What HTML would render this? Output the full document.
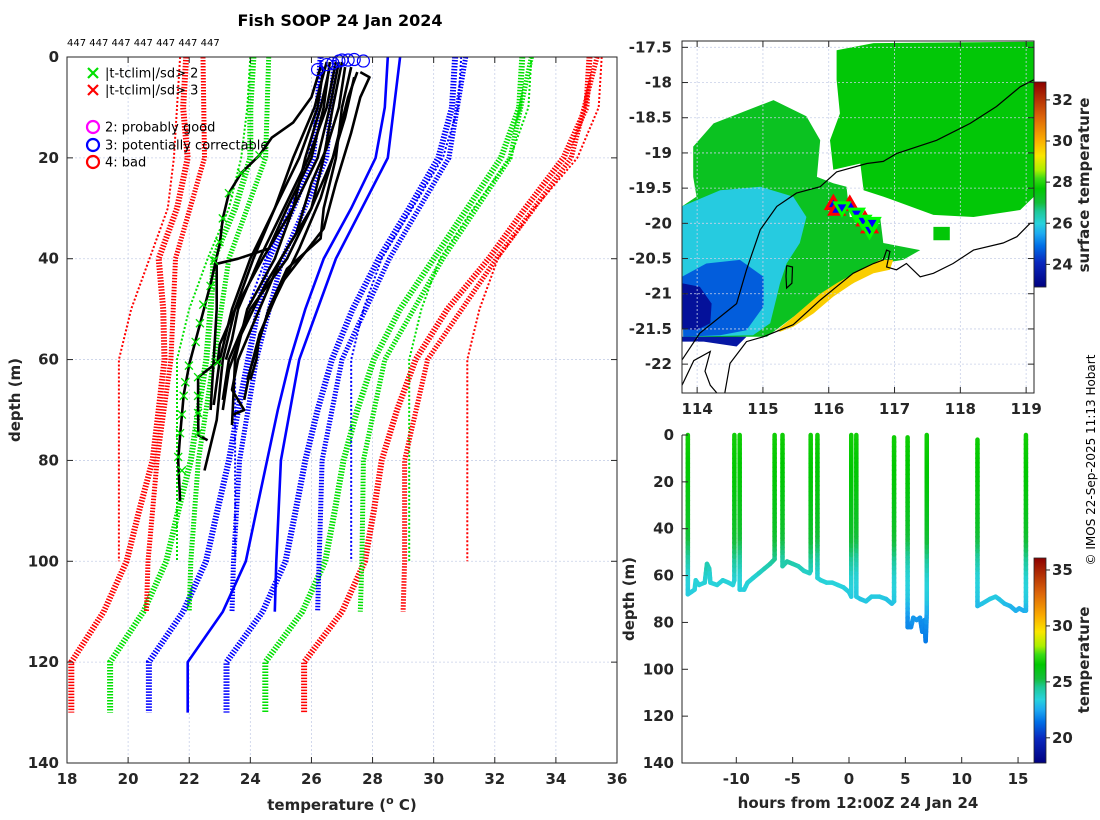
<!DOCTYPE html>
<html><head><meta charset="utf-8"><style>
html,body{margin:0;padding:0;background:#fff;}
svg{display:block;font-family:"DejaVu Sans","Liberation Sans",sans-serif;}
.tk{font-size:15px;font-weight:bold;fill:#262626;}
.lg{font-size:13px;fill:#000;}
</style></head><body>
<svg id="fig" width="1100" height="820" viewBox="0 0 1100 820" xmlns="http://www.w3.org/2000/svg">
<text x="340" y="26" text-anchor="middle" font-size="16" font-weight="bold" fill="#000">Fish SOOP 24 Jan 2024</text>
<text x="67" y="46" font-size="10" fill="#000">447 447 447 447 447 447 447</text>
<g id="left"></g>
<g id="map"></g>
<g id="sect"></g>
<text x="20" y="400" transform="rotate(-90 20 400)" text-anchor="middle" class="tk" font-size="16">depth (m)</text>
<text x="342" y="810" text-anchor="middle" class="tk" font-size="16">temperature (<tspan font-size="11" dy="-6">o</tspan><tspan dy="6"> C)</tspan></text>
<text x="634" y="599" transform="rotate(-90 634 599)" text-anchor="middle" class="tk" font-size="16">depth (m)</text>
<text x="858" y="808" text-anchor="middle" class="tk" font-size="16">hours from 12:00Z 24 Jan 24</text>
<text x="1089" y="185" transform="rotate(-90 1089 185)" text-anchor="middle" class="tk" font-size="14">surface temperature</text>
<text x="1089" y="660" transform="rotate(-90 1089 660)" text-anchor="middle" class="tk" font-size="14">temperature</text>
<text x="1095" y="460" transform="rotate(-90 1095 460)" text-anchor="middle" font-size="12" fill="#000">© IMOS 22-Sep-2025 11:13 Hobart</text>
</svg>
<script>
// ---------- left panel data ----------
const clim1Depth=[0,10,20,30,40,50,60,70,80,90,100,110,120,130];
const clim1Mean=[28.5,28.4,28.1,27.3,26.4,25.8,25.3,24.9,24.55,24.2,23.85,23.1,21.95,21.95];
const clim1Sd=[2.2,2.2,2.05,1.9,1.8,1.55,1.37,1.3,1.25,1.28,1.3,1.3,1.27,1.27];
const clim3Depth=[0,20,40,60,80,100,110];
const clim3Mean=[28.9,28.5,26.8,25.6,25.0,24.85,24.8];
const clim3Sd=[2.15,2.0,1.75,1.4,1.35,1.4,1.4];
const clim2Depth=[0,10,20,30,40,50,60,100];
const clim2Mean=[28.6,28.5,28.1,27.3,26.4,25.8,25.4,25.4];
const clim2Sd=[2.3,2.3,2.2,2.0,1.9,1.9,1.9,1.9];
const profiles=[
 [[2,26.3],[8,26.0],[13,25.4],[16,24.7],[19.5,24.3],[23,23.7],[27,23.3],[32,23.1],[37,23.0],[45,22.7],[53,22.35],[61,22.0],[67,21.82],[75,21.7],[80,21.64],[88,21.7]],
 [[1,26.5],[10,26.1],[20,25.4],[30,24.8],[40,24.1],[50,23.5],[57,23.0],[60.5,22.93],[63.5,22.29],[70,22.29],[75,22.3],[76,22.6]],
 [[1,27.0],[10,26.7],[20,26.4],[30,26.0],[40,25.0],[50,24.3],[60,23.6],[66,23.4],[70,23.8],[71,23.4]],
 [[2,27.3],[10,27.0],[20,26.8],[30,26.4],[36,26.3],[42,25.2],[50,24.6],[58,24.2],[64,23.9]],
 [[3,27.5],[8,27.2],[20,26.7],[30,26.0],[40,25.2],[50,24.0],[60,23.3],[68,23.1]],
 [[1,26.6],[10,26.4],[20,26.0],[30,25.2],[38,24.6],[40,23.6],[41,22.9],[50,22.9],[60,22.8],[70,22.7]],
 [[2,27.1],[10,26.9],[18,26.5],[25,26.0],[35,25.5],[45,24.5],[55,23.7],[62,23.3],[70,23.1]],
 [[1,26.8],[10,26.5],[20,25.9],[30,25.1],[40,24.3],[50,23.6],[56,23.4],[60,23.2]],
 [[3,27.6],[4,27.9],[8,27.6],[15,27.3],[25,26.8],[34,26.4],[45,25.0],[55,24.3],[62,24.0],[68,23.8]],
 [[1,26.9],[10,26.6],[20,26.2],[30,25.4],[40,24.4],[50,23.5],[60,23.1],[72,22.9],[82,22.5]],
 [[4,27.4],[12,27.1],[20,26.7],[28,26.3],[38,25.6],[48,24.8],[55,24.3],[60,24.2],[64,24.0]],
 [[2,26.4],[10,26.2],[20,25.6],[30,24.8],[40,24.0],[50,23.4],[60,23.0],[69,22.8]],
 [[2,26.6],[10,26.3],[20,25.8],[30,25.4],[40,24.8],[50,23.9],[60,23.5],[73,23.4]]
];
const flagT=[24.3,23.7,23.3,23.1,22.99,22.81,22.70,22.46,22.35,22.21,21.99,21.87,21.82,21.76,21.70,21.64,21.76,22.29,22.29,22.29,22.29,22.93];
const flagD=[19.5,23,27,32,36.7,40.4,45.4,49.1,52.8,56.5,61.2,64.5,67.2,70.9,74.6,79.3,82.0,63.5,67.2,70.6,74.6,60.5];
const qcT=[26.2,26.5,26.7,26.9,27.0,27.2,27.4,27.7];
const qcD=[2.5,1.5,1.2,0.8,0.6,0.6,0.5,0.8];
const tTicks=[18,20,22,24,26,28,30,32,34,36];
const dTicks=[0,20,40,60,80,100,120,140];

// ---------- map data ----------
const mapLonTicks=[114,115,116,117,118,119];
const mapLatTicks=[-17.5,-18,-18.5,-19,-19.5,-20,-20.5,-21,-21.5,-22];
const regionValues=[27.6,27.6,27.3,25.9,24.7,23.4,23.6,29.6];
const regionShapes=[
 [[116.12,-17.54],[116.68,-17.44],[119.12,-17.42],[119.12,-19.62],[118.91,-19.81],[118.2,-19.91],[117.59,-19.88],[116.83,-19.62],[116.53,-19.53],[116.48,-19.15],[116.07,-19.24],[116.02,-18.82],[116.17,-18.44],[116.12,-17.96]],
 [[117.59,-20.05],[117.84,-20.05],[117.84,-20.24],[117.59,-20.24]],
 [[113.94,-18.91],[114.25,-18.58],[115.16,-18.25],[115.66,-18.48],[115.87,-18.82],[115.82,-19.34],[116.07,-19.43],[116.27,-19.48],[116.32,-19.91],[116.78,-19.91],[116.83,-20.28],[117.39,-20.38],[117.13,-20.52],[116.78,-20.57],[116.37,-20.85],[115.66,-21.23],[115.46,-21.33],[115.06,-21.61],[114.75,-21.61],[113.79,-21.63],[113.77,-19.76],[113.99,-19.62],[113.94,-19.34]],
 [[113.77,-19.76],[114.35,-19.53],[114.96,-19.48],[115.46,-19.62],[115.66,-19.91],[115.56,-20.28],[115.36,-20.57],[115.26,-20.85],[115.21,-21.04],[115.11,-21.42],[114.85,-21.59],[113.79,-21.61]],
 [[113.77,-20.76],[114.14,-20.57],[114.65,-20.52],[115.01,-20.76],[115.01,-21.18],[114.75,-21.52],[114.35,-21.59],[113.79,-21.61]],
 [[113.77,-20.85],[114.04,-20.9],[114.22,-21.14],[114.2,-21.42],[113.99,-21.52],[113.77,-21.5]],
 [[113.77,-21.61],[114.75,-21.61],[114.6,-21.75],[114.1,-21.68],[113.77,-21.68]],
 [[115.21,-21.52],[115.46,-21.33],[115.87,-21.0],[116.12,-20.85],[116.48,-20.66],[116.78,-20.52],[116.98,-20.52],[116.93,-20.66],[116.68,-20.71],[116.37,-20.85],[116.07,-21.04],[115.77,-21.28],[115.46,-21.47],[115.26,-21.54]]
];
const shelfLine=[[113.77,-21.94],[114.04,-21.56],[114.6,-21.14],[114.75,-20.66],[114.96,-20.09],[115.21,-19.76],[115.51,-19.57],[115.87,-19.48],[116.12,-19.27],[116.58,-19.15],[116.83,-19.12],[117.03,-19.01],[117.64,-18.82],[118.15,-18.58],[118.55,-18.34],[118.91,-18.06],[119.12,-17.96]];
const coastLine=[[114.42,-22.41],[114.5,-21.99],[114.75,-21.68],[115.01,-21.61],[115.46,-21.44],[115.87,-21.09],[116.12,-20.9],[116.37,-20.71],[116.68,-20.57],[116.83,-20.52],[116.88,-20.38],[116.93,-20.4],[116.88,-20.62],[117.03,-20.66],[117.18,-20.57],[117.39,-20.76],[117.59,-20.71],[117.89,-20.57],[118.2,-20.38],[118.65,-20.28],[118.86,-20.19],[119.06,-20.0],[119.12,-20.0]];
const capeLine=[[113.77,-22.3],[113.95,-21.95],[114.2,-21.82],[114.12,-22.1],[114.2,-22.3],[114.3,-22.41]];
const islandLine=[[115.36,-20.6],[115.45,-20.62],[115.44,-20.85],[115.36,-20.92],[115.35,-20.75],[115.36,-20.6]];
const upTriLon=[116.07,116.12,116.32,116.55,116.62];
const upTriLat=[-19.72,-19.8,-19.73,-19.95,-20.05];
const downTriLon=[116.2,116.42,116.52,116.62,116.66];
const downTriLat=[-19.78,-19.87,-19.97,-20.1,-20.0];
const sstTicks=[24,26,28,30,32];

// ---------- section data ----------
const pathHours=[-14.3,-14.3,-14.0,-13.7,-13.6,-13.3,-12.8,-12.6,-12.4,-12.3,-11.7,-11.2,-10.7,-10.3,-10.17,-10.17,null,-9.7,-9.7,-9.3,-9.0,-8.5,-8.0,-7.5,-7.0,-6.8,-6.6,-6.6,null,-5.9,-5.9,-5.5,-5.0,-4.5,-4.0,-3.5,-3.4,-3.4,null,-2.8,-2.8,-2.5,-2.0,-1.5,-1.0,-0.5,0.0,0.2,0.2,null,0.65,0.65,1.0,1.5,2.0,2.7,3.3,3.8,4.0,4.0,null,5.2,5.2,5.5,5.7,6.0,6.3,6.5,6.7,6.8,6.9,6.9,null,11.4,11.4,11.8,12.5,13.0,13.3,13.8,14.3,14.8,15.1,15.5,15.7,15.7];
const pathDepths=[0,68,67,66,62,64,63,55,57,63,64,62,63,64,62,0,null,0,66,66,63,61,59,57,55,54,53,0,null,0,56,54,55,56,58,59,58,0,null,0,61,62,63,63,64,65,67,69,0,null,0,69,70,71,69,69,70,72,71,1,null,1,82,82,78,79,78,84,79,88,76,0,null,2,73,72,70,69,70,72,73,75,74,75,75,0];
const tzDepth=[0,20,40,50,60,70,80,90];
const tzTemp=[26.8,26.4,25.7,24.8,23.6,23.2,22.0,21.5];
const hourTicks=[-10,-5,0,5,10,15];
const secTempTicks=[20,25,30,35];

// ---------- helpers ----------
const NS='http://www.w3.org/2000/svg';
function mk(tag,attrs,parent){const e=document.createElementNS(NS,tag);for(const k in attrs)e.setAttribute(k,attrs[k]);parent.appendChild(e);return e;}
const cstops=[[0,0,0,128],[0.12,10,40,190],[0.2,0,110,230],[0.26,30,170,240],[0.31,40,210,220],[0.37,30,200,150],[0.41,20,190,60],[0.48,0,200,0],[0.53,60,220,20],[0.57,170,240,0],[0.64,250,230,0],[0.72,250,170,0],[0.83,220,100,10],[1,140,0,0]];
function cmap(f){f=Math.max(0,Math.min(1,f));for(let i=1;i<cstops.length;i++){if(f<=cstops[i][0]){const a=cstops[i-1],b=cstops[i];const t=(f-a[0])/(b[0]-a[0]);return `rgb(${Math.round(a[1]+t*(b[1]-a[1]))},${Math.round(a[2]+t*(b[2]-a[2]))},${Math.round(a[3]+t*(b[3]-a[3]))})`;}}return 'rgb(140,0,0)';}
function interp(xs,ys,x){if(x<=xs[0])return ys[0];for(let i=1;i<xs.length;i++){if(x<=xs[i]){const t=(x-xs[i-1])/(xs[i]-xs[i-1]);return ys[i-1]+t*(ys[i]-ys[i-1]);}}return ys[ys.length-1];}

// ---------- left panel ----------
const L=document.getElementById('left');
const xT=t=>67+(t-18)*550/18, yD=d=>57+d*706/140;
tTicks.forEach(t=>{const g=mk('line',{x1:xT(t),x2:xT(t),y1:57,y2:763,stroke:'#c8d0e8','stroke-width':0.8,'stroke-dasharray':'2 2'},L);

});
dTicks.forEach(d=>{const g=mk('line',{x1:67,x2:617,y1:yD(d),y2:yD(d),stroke:'#c8d0e8','stroke-width':0.8,'stroke-dasharray':'2 2'},L);

});
function climLines(depths,mean,sd,width,dash,name,drawMean){
  const specs=[[-3,'#ff0000'],[3,'#ff0000'],[-2,'#00e000'],[2,'#00e000'],[-1,'#0000ff'],[1,'#0000ff']];
  specs.forEach(([k,c])=>{const pts=depths.map((d,i)=>xT(mean[i]+k*sd[i]).toFixed(1)+','+yD(d).toFixed(1)).join(' ');
    const p=mk('polyline',{points:pts,fill:'none',stroke:c,'stroke-width':width,'stroke-dasharray':dash},L);
    
    });
  if(drawMean){const pts=depths.map((d,i)=>xT(mean[i]).toFixed(1)+','+yD(d).toFixed(1)).join(' ');
    const p=mk('polyline',{points:pts,fill:'none',stroke:'#0000ff','stroke-width':2.6},L);
    
    }
}
climLines(clim2Depth,clim2Mean,clim2Sd,2,'2 2','clim-b',false);
climLines(clim1Depth,clim1Mean,clim1Sd,6,'1.5 1.5','clim-a',true);
climLines(clim3Depth,clim3Mean,clim3Sd,5,'1.5 1.5','clim-c',true);
profiles.forEach((pr,i)=>{const pts=pr.map(p=>xT(p[1]).toFixed(1)+','+yD(p[0]).toFixed(1)).join(' ');
  const p=mk('polyline',{points:pts,fill:'none',stroke:'#000','stroke-width':2.6,'stroke-linejoin':'round'},L);
  
  });
flagT.forEach((t,i)=>{const x=xT(t),y=yD(flagD[i]);
  const p=mk('path',{d:`M${x-4},${y-4}L${x+4},${y+4}M${x-4},${y+4}L${x+4},${y-4}`,stroke:'#00e000','stroke-width':1.3},L);
  
  });
qcT.forEach((t,i)=>{const c=mk('circle',{cx:xT(t),cy:yD(qcD[i]),r:6,fill:'none',stroke:'#0000ff','stroke-width':1.2},L);
  
  });
const fr=mk('rect',{x:67,y:57,width:550,height:706,fill:'none',stroke:'#262626','stroke-width':1},L);


tTicks.forEach(t=>{mk('line',{x1:xT(t),x2:xT(t),y1:763,y2:757,stroke:'#262626'},L);mk('line',{x1:xT(t),x2:xT(t),y1:57,y2:63,stroke:'#262626'},L);
  const tx=mk('text',{x:xT(t),y:784,'text-anchor':'middle',class:'tk'},L);tx.textContent=t;
  
  });
dTicks.forEach(d=>{mk('line',{x1:67,x2:73,y1:yD(d),y2:yD(d),stroke:'#262626'},L);mk('line',{x1:611,x2:617,y1:yD(d),y2:yD(d),stroke:'#262626'},L);
  const tx=mk('text',{x:59,y:yD(d)+5,'text-anchor':'end',class:'tk'},L);tx.textContent=d;
  
  });
const legItems=[['x','#00e000',73,'|t-tclim|/sd> 2'],['x','#ff0000',90,'|t-tclim|/sd> 3'],['o','#ff00ff',127,'2: probably good'],['o','#0000ff',145,'3: potentially correctable'],['o','#ff0000',162,'4: bad']];
legItems.forEach(([s,c,y,label])=>{const g=mk('g',{},L);
  
  
  if(s==='x')mk('path',{d:`M${88},${y-5}L${98},${y+5}M${88},${y+5}L${98},${y-5}`,stroke:c,'stroke-width':2.2},g);
  else mk('circle',{cx:93,cy:y,r:6,fill:'none',stroke:c,'stroke-width':2.2},g);
  const t=mk('text',{x:105,y:y+4.5,class:'lg'},g);t.textContent=label;});

// ---------- map ----------
const M=document.getElementById('map');
const lonX=lon=>682+(lon-113.77)*65.8, latY=lat=>41+(-17.41-lat)*70.4;
const defs=mk('defs',{},M);const cp=mk('clipPath',{id:'mapclip'},defs);mk('rect',{x:682,y:41,width:352,height:352},cp);
const mg=mk('g',{'clip-path':'url(#mapclip)'},M);
const sstMin=22.9,sstMax=32.87;
regionShapes.forEach((sh,i)=>{const p=mk('polygon',{points:sh.map(q=>lonX(q[0]).toFixed(1)+','+latY(q[1]).toFixed(1)).join(' '),fill:cmap((regionValues[i]-sstMin)/(sstMax-sstMin)),stroke:'none'},mg);
  
  });
mapLonTicks.forEach(l=>mk('line',{x1:lonX(l),x2:lonX(l),y1:41,y2:393,stroke:'#c8d0e8','stroke-width':0.8,'stroke-dasharray':'2 2'},mg));
mapLatTicks.forEach(l=>mk('line',{x1:682,x2:1034,y1:latY(l),y2:latY(l),stroke:'#c8d0e8','stroke-width':0.8,'stroke-dasharray':'2 2'},mg));
[[shelfLine,'shelf-contour'],[coastLine,'coastline'],[capeLine,'cape-coastline'],[islandLine,'island-outline']].forEach(([ln,n])=>{
  const p=mk('polyline',{points:ln.map(q=>lonX(q[0]).toFixed(1)+','+latY(q[1]).toFixed(1)).join(' '),fill:'none',stroke:'#000','stroke-width':1.2},mg);
  
  });
upTriLon.forEach((lo,i)=>{const x=lonX(lo),y=latY(upTriLat[i]);
  const p=mk('polygon',{points:`${x},${y-7} ${x-7},${y+5} ${x+7},${y+5}`,fill:'#0000ff',stroke:'#ff0000','stroke-width':3},mg);
  
  });
downTriLon.forEach((lo,i)=>{const x=lonX(lo),y=latY(downTriLat[i]);
  const p=mk('polygon',{points:`${x},${y+7} ${x-7},${y-5} ${x+7},${y-5}`,fill:'#0000ff',stroke:'#00ff00','stroke-width':3},mg);
  
  });
const mfr=mk('rect',{x:682,y:41,width:352,height:352,fill:'none',stroke:'#262626'},M);


mapLonTicks.forEach(l=>{mk('line',{x1:lonX(l),x2:lonX(l),y1:393,y2:387,stroke:'#262626'},M);mk('line',{x1:lonX(l),x2:lonX(l),y1:41,y2:47,stroke:'#262626'},M);
  const t=mk('text',{x:lonX(l),y:414,'text-anchor':'middle',class:'tk'},M);t.textContent=l;
  
  });
mapLatTicks.forEach(l=>{mk('line',{x1:682,x2:688,y1:latY(l),y2:latY(l),stroke:'#262626'},M);mk('line',{x1:1028,x2:1034,y1:latY(l),y2:latY(l),stroke:'#262626'},M);
  const t=mk('text',{x:672,y:latY(l)+5,'text-anchor':'end',class:'tk'},M);t.textContent=l;
  
  });
function colorbar(parent,y0,y1,vmin,vmax,ticks,name){
  const g=mk('g',{},parent);
  
  
  for(let y=y0;y<y1;y++){const v=vmax-(y-y0+0.5)/(y1-y0)*(vmax-vmin);mk('rect',{x:1034,y:y,width:12,height:1.2,fill:cmap((v-vmin)/(vmax-vmin))},g);}
  mk('rect',{x:1034,y:y0,width:12,height:y1-y0,fill:'none',stroke:'#262626','stroke-width':0.8},g);
  ticks.forEach(t=>{const y=y0+(vmax-t)/(vmax-vmin)*(y1-y0);mk('line',{x1:1046,x2:1050,y1:y,y2:y,stroke:'#262626'},g);
    const tx=mk('text',{x:1052,y:y+5,class:'tk','font-size':14},g);tx.textContent=t;});
}
colorbar(M,82,287,sstMin,sstMax,sstTicks,'map-colorbar');

// ---------- section ----------
const S=document.getElementById('sect');
const xH=h=>849+h*11.27, yS=d=>435+d*328/140;
const secMin=17.75,secMax=36.07;
for(let i=1;i<pathHours.length;i++){
  if(pathHours[i]===null||pathHours[i-1]===null)continue;
  const h0=pathHours[i-1],h1=pathHours[i],d0=pathDepths[i-1],d1=pathDepths[i];
  const n=Math.max(1,Math.ceil(Math.abs(d1-d0)/2));
  for(let k=0;k<n;k++){const da=d0+(d1-d0)*k/n,db=d0+(d1-d0)*(k+1)/n,ha=h0+(h1-h0)*k/n,hb=h0+(h1-h0)*(k+1)/n;
    const T=interp(tzDepth,tzTemp,(da+db)/2);
    const seg=mk('line',{x1:xH(ha),x2:xH(hb),y1:yS(da),y2:yS(db),stroke:cmap((T-secMin)/(secMax-secMin)),'stroke-width':4.5,'stroke-linecap':'round'},S);
    
    }
}
const ax1=mk('path',{d:'M682,435V763H1034',fill:'none',stroke:'#262626'},S);


hourTicks.forEach(h=>{mk('line',{x1:xH(h),x2:xH(h),y1:763,y2:757,stroke:'#262626'},S);
  const t=mk('text',{x:xH(h),y:784,'text-anchor':'middle',class:'tk'},S);t.textContent=h;
  
  });
dTicks.forEach(d=>{mk('line',{x1:682,x2:688,y1:yS(d),y2:yS(d),stroke:'#262626'},S);
  const t=mk('text',{x:674,y:yS(d)+5,'text-anchor':'end',class:'tk'},S);t.textContent=d;
  
  });
colorbar(S,558,763,secMin,secMax,secTempTicks,'section-colorbar');
</script>
</body></html>
